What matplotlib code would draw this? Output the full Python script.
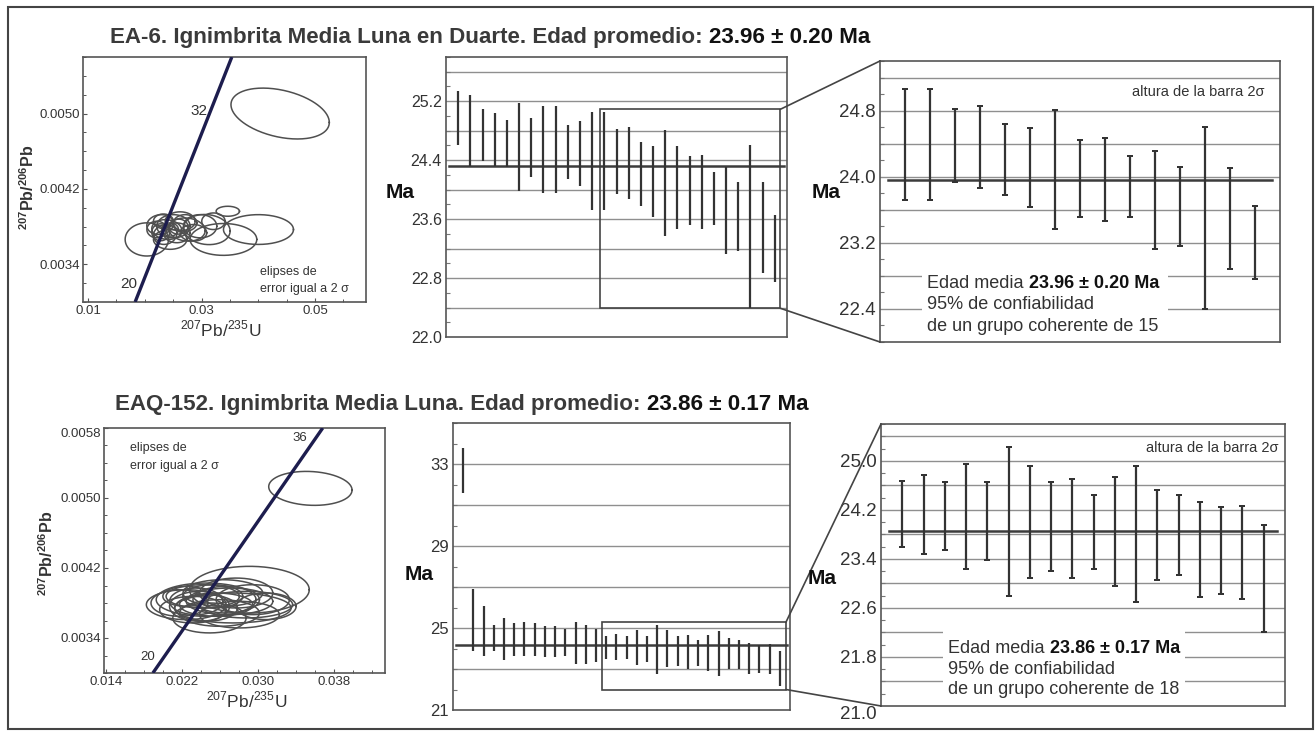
import numpy as np
import matplotlib
matplotlib.use("Agg")
import matplotlib.pyplot as plt
import matplotlib.transforms as mtransforms
from matplotlib.patches import Rectangle, ConnectionPatch
from matplotlib.ticker import MultipleLocator

plt.rcParams['font.family'] = ['Liberation Sans', 'DejaVu Sans']
plt.rcParams['mathtext.fontset'] = 'custom'
plt.rcParams['mathtext.rm'] = 'Liberation Sans'
plt.rcParams['mathtext.bf'] = 'Liberation Sans:bold'

# ---------------------------------------------------------------- data
# EA-6 : concordia trace (207Pb/235U vs 207Pb/206Pb) and 2-sigma ellipses
ea6_conc_x = [0.01829, 0.03534]
ea6_conc_y = [0.0030, 0.0056]
ea6_ell_x = [0.04386, 0.02035, 0.02388, 0.02505, 0.02270, 0.02741, 0.02623, 0.02975,
             0.02446, 0.03093, 0.02857, 0.03386, 0.04004, 0.03463, 0.02212, 0.02358,
             0.02564, 0.02711, 0.02328, 0.03210, 0.02446, 0.02593, 0.02280]
ea6_ell_y = [0.00500, 0.003664, 0.003769, 0.003804, 0.003822, 0.003769, 0.003857,
             0.003804, 0.003664, 0.003769, 0.003734, 0.003664, 0.003769, 0.003963,
             0.003769, 0.003716, 0.003734, 0.003839, 0.003857, 0.003857, 0.003769,
             0.003800, 0.003740]
ea6_ell_sx = [0.00867, 0.00382, 0.00265, 0.00294, 0.00235, 0.00323, 0.00265, 0.00294,
              0.00294, 0.00411, 0.00235, 0.00588, 0.00617, 0.00206, 0.00176, 0.00206,
              0.00235, 0.00206, 0.00176, 0.00206, 0.00147, 0.00168, 0.00157]
ea6_ell_sy = [0.00027, 0.000176, 0.000105, 0.000123, 0.000105, 0.000123, 0.000100,
              0.000123, 0.000105, 0.000160, 0.000088, 0.000169, 0.000158, 0.000053,
              0.000088, 0.000105, 0.000105, 0.000088, 0.000077, 0.000088, 0.000070,
              0.000080, 0.000090]
ea6_ell_rho = [-0.35, 0.0, -0.1, 0.0, 0.1, -0.1, 0.0, 0.0, 0.0, -0.1, 0.0, 0.0,
               0.0, 0.0, 0.0, 0.1, 0.0, 0.0, 0.0, 0.0, 0.0, 0.0, 0.0]
ea6_xticks = [0.01, 0.03, 0.05]
ea6_xticklabels = ["0.01", "0.03", "0.05"]
ea6_yticks = [0.0034, 0.0042, 0.0050]
ea6_yticklabels = ["0.0034", "0.0042", "0.0050"]

# EA-6 : all spot ages (Ma) and 2-sigma errors
ea6_ages = [24.97, 24.80, 24.74, 24.68, 24.63, 24.58, 24.57, 24.55, 24.55,
            24.51, 24.49, 24.39, 24.39, 24.38, 24.36, 24.21, 24.11, 24.09,
            24.03, 23.99, 23.97, 23.88, 23.72, 23.64, 23.50, 23.49, 23.20]
ea6_errs = [0.37, 0.48, 0.35, 0.36, 0.32, 0.60, 0.40, 0.59, 0.59, 0.37, 0.44,
            0.67, 0.67, 0.44, 0.49, 0.43, 0.48, 0.72, 0.56, 0.47, 0.50, 0.36,
            0.59, 0.47, 1.11, 0.62, 0.45]
ea6_all_mean = 24.32
# EA-6 : coherent group of 15
ea6_sel_ages = [24.39, 24.39, 24.38, 24.36, 24.21, 24.11, 24.09, 23.98, 23.97,
                23.88, 23.72, 23.64, 23.50, 23.49, 23.20]
ea6_sel_errs = [0.67, 0.67, 0.44, 0.50, 0.43, 0.48, 0.72, 0.47, 0.50, 0.37,
                0.59, 0.48, 1.10, 0.61, 0.44]
ea6_mean = 23.96
ea6_mean_err = 0.20
ea6_n = 15

# EAQ-152 : concordia trace and 2-sigma ellipses
eaq_conc_x = [0.01895, 0.03684]
eaq_conc_y = [0.0030, 0.0058]
eaq_ell_x = [0.03554, 0.02912, 0.02246, 0.02456, 0.02597, 0.02737, 0.02526,
             0.02351, 0.02456, 0.02667, 0.02772, 0.03088, 0.02246, 0.02386,
             0.02491, 0.02561, 0.02807, 0.02702, 0.02316, 0.02947, 0.02175,
             0.02420, 0.02632, 0.02877]
eaq_ell_y = [0.00511, 0.003952, 0.003781, 0.003838, 0.003686, 0.003743, 0.003876,
             0.003819, 0.003743, 0.003838, 0.003914, 0.003762, 0.003876, 0.003762,
             0.003629, 0.003781, 0.003667, 0.003819, 0.003724, 0.003838, 0.003800,
             0.003876, 0.003914, 0.003781]
eaq_ell_sx = [0.00439, 0.0063, 0.0042, 0.00526, 0.0042, 0.00614, 0.00316, 0.0028,
              0.0033, 0.0035, 0.00386, 0.00316, 0.00246, 0.00316, 0.00386, 0.00386,
              0.0042, 0.00456, 0.0035, 0.00386, 0.0030, 0.00386, 0.0042, 0.0049]
eaq_ell_sy = [0.000194, 0.000267, 0.000171, 0.000190, 0.000152, 0.000171, 0.000133,
              0.000152, 0.000152, 0.000152, 0.000171, 0.000152, 0.000114, 0.000171,
              0.000171, 0.000133, 0.000152, 0.000152, 0.000152, 0.000171, 0.000152,
              0.000133, 0.000152, 0.000152]
eaq_ell_rho = [-0.1, 0.0, 0.0, 0.0, 0.0, 0.0, 0.0, 0.0, 0.0, 0.0, 0.0, 0.0,
               0.0, 0.0, 0.0, 0.0, 0.0, 0.0, 0.0, 0.0, 0.0, 0.0, 0.0, 0.0]
eaq_xticks = [0.014, 0.022, 0.030, 0.038]
eaq_xticklabels = ["0.014", "0.022", "0.030", "0.038"]
eaq_yticks = [0.0034, 0.0042, 0.0050, 0.0058]
eaq_yticklabels = ["0.0034", "0.0042", "0.0050", "0.0058"]

# EAQ-152 : all spot ages (Ma) and 2-sigma errors
eaq_ages = [32.67, 25.37, 24.86, 24.51, 24.47, 24.45, 24.45, 24.43, 24.33,
            24.34, 24.31, 24.26, 24.20, 24.14, 24.06, 24.08, 24.04, 24.04,
            23.98, 23.96, 23.98, 23.87, 23.84, 23.78, 23.79, 23.77, 23.74,
            23.70, 23.51, 23.50, 23.48, 23.02]
eaq_errs = [1.10, 1.51, 1.21, 0.65, 1.01, 0.80, 0.83, 0.81, 0.76, 0.77, 0.66,
            1.02, 0.96, 0.81, 0.57, 0.64, 0.55, 0.84, 0.65, 1.20, 0.90, 0.72,
            0.82, 0.63, 0.88, 1.10, 0.76, 0.72, 0.77, 0.69, 0.74, 0.87]
eaq_all_mean = 24.17
# EAQ-152 : coherent group of 18
eaq_sel_ages = [24.13, 24.12, 24.10, 24.09, 24.02, 24.01, 24.00, 23.93, 23.90,
                23.84, 23.84, 23.81, 23.79, 23.79, 23.55, 23.54, 23.51, 23.08]
eaq_sel_errs = [0.54, 0.64, 0.55, 0.85, 0.64, 1.21, 0.92, 0.72, 0.81, 0.61,
                0.89, 1.11, 0.74, 0.66, 0.78, 0.71, 0.76, 0.87]
eaq_mean = 23.86
eaq_mean_err = 0.17
eaq_n = 18

# ---------------------------------------------------------------- figure
W, H = 1316, 735
fig = plt.figure(figsize=(W / 100, H / 100), dpi=100)
fig.patch.set_facecolor('white')

TXT = '#333333'
GRID = '#8f8f8f'
SPINE = '#555555'
BAR = '#333333'


def fx(px):
    return px / W


def fy(py):
    return 1 - py / H


def add_ax(l, t, r, b):
    return fig.add_axes([l / W, 1 - b / H, (r - l) / W, (b - t) / H])


def text_runs(x, y, runs, size):
    """Consecutive text runs sharing one baseline, in pixel coordinates."""
    rend = fig.canvas.get_renderer()
    for s, kw in runs:
        t = fig.text(fx(x), fy(y), s, va='baseline', ha='left', fontsize=size, **kw)
        x += t.get_window_extent(rend).width + 0.28 * size * 100 / 72


def ellipse_xy(cx, cy, sx, sy, rho, n=240):
    t = np.linspace(0, 2 * np.pi, n)
    x = cx + sx * np.cos(t)
    y = cy + sy * (rho * np.cos(t) + np.sqrt(1 - rho ** 2) * np.sin(t))
    return x, y


def concordia_panel(ax, cx, cy, ex, ey, esx, esy, erho, xlim, ylim,
                    xt, xtl, xminor, yt, ytl, yminor):
    for i in range(len(ex)):
        x, y = ellipse_xy(ex[i], ey[i], esx[i], esy[i], erho[i])
        ax.plot(x, y, color='#4f4f4f', lw=1.1, zorder=2)
    ax.plot(cx, cy, color='#1d1d4e', lw=2.4, zorder=3, solid_capstyle='butt')
    ax.set_xlim(*xlim)
    ax.set_ylim(*ylim)
    ax.set_xticks(xt)
    ax.set_xticklabels(xtl)
    ax.set_yticks(yt)
    ax.set_yticklabels(ytl)
    ax.xaxis.set_minor_locator(MultipleLocator(xminor))
    ax.yaxis.set_minor_locator(MultipleLocator(yminor))
    ax.tick_params(which='both', direction='in', color=SPINE, labelsize=9.5,
                   labelcolor=TXT, pad=2)
    ax.tick_params(which='major', length=3, width=0.8)
    ax.tick_params(which='minor', length=2.5, width=0.7)
    for s in ax.spines.values():
        s.set_color(SPINE)
        s.set_linewidth(1.2)


def age_panel(ax, ages, errs, mean, ylim, yt, ytl, grid_step, minor_step,
              caps, lw, inset, labelsize):
    n = len(ages)
    pos = np.arange(1, n + 1)
    ax.set_xlim(0, n + 1)
    ax.set_ylim(*ylim)
    g = ylim[0] + grid_step
    while g < ylim[1] - 1e-6:
        ax.axhline(g, color=GRID, lw=1.0, zorder=1)
        g += grid_step
    ax.errorbar(pos, ages, yerr=errs, fmt='none', ecolor=BAR, elinewidth=lw,
                capsize=caps, capthick=lw * 0.9, zorder=4)
    ax.axhline(mean, xmin=inset, xmax=1 - inset, color='#3c3c3c', lw=1.8, zorder=3)
    ax.set_xticks([])
    ax.set_yticks(yt)
    ax.set_yticklabels(ytl)
    ax.yaxis.set_minor_locator(MultipleLocator(minor_step))
    ax.tick_params(axis='y', which='both', direction='in', color='#777777',
                   labelsize=labelsize, labelcolor=TXT, pad=3)
    ax.tick_params(axis='y', which='major', length=0)
    ax.tick_params(axis='y', which='minor', length=3, width=0.8)
    for s in ax.spines.values():
        s.set_color(SPINE)
        s.set_linewidth(1.2)


# ------------------------------------------------------------ EA-6 row
ax_c1 = add_ax(83, 57, 366, 302)
concordia_panel(ax_c1, ea6_conc_x, ea6_conc_y, ea6_ell_x, ea6_ell_y, ea6_ell_sx,
                ea6_ell_sy, ea6_ell_rho, (0.0091, 0.059), (0.0030, 0.0056),
                ea6_xticks, ea6_xticklabels, 0.005, ea6_yticks, ea6_yticklabels, 0.0002)
ax_c1.text(0.0186, 0.00319, "20", ha='right', va='center', fontsize=11, color=TXT)
ax_c1.text(0.0310, 0.00503, "32", ha='right', va='center', fontsize=11, color=TXT)
fig.text(fx(260), fy(272), "elipses de", fontsize=9, color=TXT, va='center')
fig.text(fx(260), fy(289), "error igual a 2 σ", fontsize=9, color=TXT, va='center')
fig.text(fx(28), fy(187), r"$^{\mathbf{207}}$Pb/$^{\mathbf{206}}$Pb", rotation=90,
         ha='center', va='center', fontsize=11.5, fontweight='bold', color=TXT)
fig.text(fx(221), fy(329), r"$^{207}$Pb/$^{235}$U", ha='center', va='center',
         fontsize=12.5, color=TXT)

ax_m1 = add_ax(446, 57, 787, 337)
age_panel(ax_m1, ea6_ages, ea6_errs, ea6_all_mean, (22.0, 25.8),
          [22.0, 22.8, 23.6, 24.4, 25.2], ["22.0", "22.8", "23.6", "24.4", "25.2"],
          0.4, 0.2, 0, 1.6, 0.008, 11.5)
ax_m1.add_patch(Rectangle((12.65, 22.39), 27.45 - 12.65, 25.09 - 22.39, fill=False,
                          edgecolor='#444444', lw=1.2, zorder=2))
fig.text(fx(400), fy(192), "Ma", ha='center', va='center', fontsize=15,
         fontweight='bold', color='#111111')

ax_r1 = add_ax(880, 61, 1280, 342)
age_panel(ax_r1, ea6_sel_ages, ea6_sel_errs, ea6_mean, (22.0, 25.4),
          [22.4, 23.2, 24.0, 24.8], ["22.4", "23.2", "24.0", "24.8"],
          0.4, 0.2, 2.2, 1.6, 0.02, 13.5)
tr1 = mtransforms.blended_transform_factory(ax_r1.transAxes, ax_r1.transData)
ax_r1.add_patch(Rectangle((0.106, 22.0), 0.72 - 0.106, 1.0, transform=tr1,
                          facecolor='white', edgecolor='none', zorder=2))
fig.text(fx(826), fy(192), "Ma", ha='center', va='center', fontsize=15,
         fontweight='bold', color='#111111')
fig.text(fx(1265), fy(92), "altura de la barra 2σ", ha='right', va='center',
         fontsize=10.5, color=TXT)
text_runs(927, 288, [("Edad media", dict(color=TXT)),
                     (f"{ea6_mean:.2f} ± {ea6_mean_err:.2f} Ma",
                      dict(color='#111111', fontweight='bold'))], 13)
fig.text(fx(927), fy(309), "95% de confiabilidad", fontsize=13, color=TXT, va='baseline')
fig.text(fx(927), fy(331), f"de un grupo coherente de {ea6_n}", fontsize=13,
         color=TXT, va='baseline')

for ya, yb in [(25.09, 1.0), (22.39, 0.0)]:
    fig.add_artist(ConnectionPatch(xyA=(27.45, ya), coordsA=ax_m1.transData,
                                   xyB=(0.0, yb), coordsB=ax_r1.transAxes,
                                   color='#444444', lw=1.2))

text_runs(110, 43, [("EA-6. Ignimbrita Media Luna en Duarte. Edad promedio:",
                     dict(color='#3a3a3a', fontweight='bold')),
                    (f"{ea6_mean:.2f} ± {ea6_mean_err:.2f} Ma",
                     dict(color='#111111', fontweight='bold'))], 16.1)

# --------------------------------------------------------- EAQ-152 row
ax_c2 = add_ax(104, 428, 385, 673)
concordia_panel(ax_c2, eaq_conc_x, eaq_conc_y, eaq_ell_x, eaq_ell_y, eaq_ell_sx,
                eaq_ell_sy, eaq_ell_rho, (0.0138, 0.0434), (0.0030, 0.0058),
                eaq_xticks, eaq_xticklabels, 0.002, eaq_yticks, eaq_yticklabels, 0.0002)
ax_c2.get_yticklabels()[-1].set_va('top')
ax_c2.text(0.0192, 0.00318, "20", ha='right', va='center', fontsize=9.5, color=TXT)
ax_c2.text(0.0352, 0.00568, "36", ha='right', va='center', fontsize=9.5, color=TXT)
fig.text(fx(130), fy(448), "elipses de", fontsize=9, color=TXT, va='center')
fig.text(fx(130), fy(466), "error igual a 2 σ", fontsize=9, color=TXT, va='center')
fig.text(fx(47), fy(553), r"$^{\mathbf{207}}$Pb/$^{\mathbf{206}}$Pb", rotation=90,
         ha='center', va='center', fontsize=11.5, fontweight='bold', color=TXT)
fig.text(fx(247), fy(700), r"$^{207}$Pb/$^{235}$U", ha='center', va='center',
         fontsize=12.5, color=TXT)

ax_m2 = add_ax(453, 423, 790, 710)
age_panel(ax_m2, eaq_ages, eaq_errs, eaq_all_mean, (21.0, 35.0),
          [21, 25, 29, 33], ["21", "25", "29", "33"],
          2.0, 1.0, 0, 1.6, 0.008, 12)
ax_m2.add_patch(Rectangle((14.6, 22.0), 32.6 - 14.6, 25.28 - 22.0, fill=False,
                          edgecolor='#444444', lw=1.2, zorder=2))
fig.text(fx(419), fy(575), "Ma", ha='center', va='center', fontsize=15,
         fontweight='bold', color='#111111')

ax_r2 = add_ax(881, 424, 1285, 706)
age_panel(ax_r2, eaq_sel_ages, eaq_sel_errs, eaq_mean, (21.0, 25.6),
          [21.0, 21.8, 22.6, 23.4, 24.2, 25.0],
          ["21.0", "21.8", "22.6", "23.4", "24.2", "25.0"],
          0.4, 0.2, 2.2, 1.6, 0.02, 13.5)
ax_r2.get_yticklabels()[0].set_va('top')
tr2 = mtransforms.blended_transform_factory(ax_r2.transAxes, ax_r2.transData)
ax_r2.add_patch(Rectangle((0.153, 21.0), 0.752 - 0.153, 1.42, transform=tr2,
                          facecolor='white', edgecolor='none', zorder=2))
fig.text(fx(822), fy(578), "Ma", ha='center', va='center', fontsize=15,
         fontweight='bold', color='#111111')
fig.text(fx(1278), fy(448), "altura de la barra 2σ", ha='right', va='center',
         fontsize=10.5, color=TXT)
text_runs(948, 653, [("Edad media", dict(color=TXT)),
                     (f"{eaq_mean:.2f} ± {eaq_mean_err:.2f} Ma",
                      dict(color='#111111', fontweight='bold'))], 13)
fig.text(fx(948), fy(674), "95% de confiabilidad", fontsize=13, color=TXT, va='baseline')
fig.text(fx(948), fy(694), f"de un grupo coherente de {eaq_n}", fontsize=13,
         color=TXT, va='baseline')

for ya, yb in [(25.28, 1.0), (22.0, 0.0)]:
    fig.add_artist(ConnectionPatch(xyA=(32.6, ya), coordsA=ax_m2.transData,
                                   xyB=(0.0, yb), coordsB=ax_r2.transAxes,
                                   color='#444444', lw=1.2))

text_runs(115, 410, [("EAQ-152. Ignimbrita Media Luna. Edad promedio:",
                      dict(color='#3a3a3a', fontweight='bold')),
                     (f"{eaq_mean:.2f} ± {eaq_mean_err:.2f} Ma",
                      dict(color='#111111', fontweight='bold'))], 16.1)

# outer frame
fig.add_artist(Rectangle((fx(8), fy(729)), (1313 - 8) / W, (729 - 7) / H,
                         transform=fig.transFigure, fill=False,
                         edgecolor='#444444', lw=1.5))

fig.savefig("out.png", dpi=100, facecolor='white')
